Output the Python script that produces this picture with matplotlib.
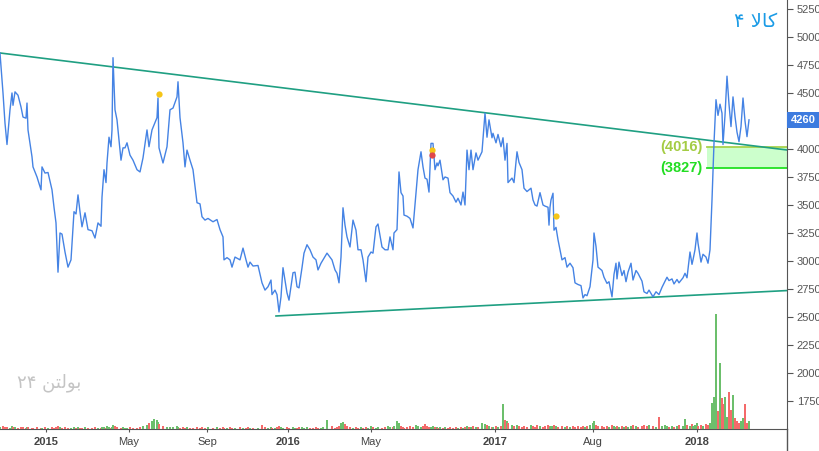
import matplotlib as mpl
import matplotlib.pyplot as plt
from matplotlib.lines import Line2D

mpl.rcParams.update({
    "font.family": ["Liberation Sans", "DejaVu Sans"],
    "font.size": 8,
    "figure.dpi": 100,
})

# trading-day index, close price and volume (volume in arbitrary units)
day = [
    0, 3, 5, 7, 10, 12, 13, 15, 18, 21,
    23, 26, 27, 28, 32, 33, 37, 41, 42, 45,
    48, 52, 54, 56, 58, 60, 62, 65, 68, 71,
    74, 76, 78, 80, 82, 85, 88, 92, 95, 98,
    101, 102, 104, 106, 107, 109, 111, 112, 113, 115,
    117, 121, 123, 125, 127, 130, 133, 137, 140, 143,
    147, 149, 152, 154, 157, 158, 159, 163, 167, 170,
    173, 177, 178, 180, 183, 185, 187, 190, 193, 197,
    200, 202, 205, 208, 213, 217, 220, 223, 224, 227,
    230, 232, 235, 240, 243, 246, 248, 250, 253, 258,
    262, 265, 268, 271, 272, 275, 277, 279, 281, 283,
    287, 289, 293, 295, 297, 299, 302, 304, 307, 310,
    313, 316, 318, 321, 323, 327, 332, 335, 337, 339,
    341, 343, 345, 347, 350, 353, 356, 358, 361, 363,
    366, 368, 371, 373, 376, 378, 382, 385, 388, 390,
    393, 394, 397, 399, 401, 403, 404, 407, 410, 413,
    416, 418, 421, 423, 425, 427, 429, 431, 433, 435,
    437, 438, 440, 443, 445, 448, 450, 453, 456, 458,
    461, 463, 465, 467, 469, 471, 473, 476, 478, 482,
    485, 487, 489, 492, 493, 496, 498, 501, 503, 505,
    507, 508, 512, 514, 517, 519, 522, 524, 527, 531,
    533, 535, 537, 540, 543, 545, 548, 549, 550, 551,
    553, 554, 556, 558, 562, 565, 567, 570, 573, 575,
    578, 581, 583, 585, 587, 590, 593, 594, 596, 598,
    602, 604, 607, 609, 612, 614, 616, 617, 619, 622,
    624, 626, 628, 631, 633, 636, 638, 642, 644, 647,
    649, 653, 656, 659, 662, 665, 667, 669, 672, 674,
    677, 679, 683, 685, 687, 690, 692, 693, 695, 697,
    698, 701, 703, 706, 708, 710, 712, 714, 716, 718,
    720, 722, 723, 725, 727, 729, 731, 733, 735, 737,
    739, 741, 743, 745, 747, 749,
]

close = [
    4855, 4500, 4230, 4040, 4350, 4500, 4390, 4510, 4480, 4375,
    4285, 4275, 4410, 4170, 3930, 3840, 3750, 3635, 3840, 3785,
    3790, 3635, 3480, 3340, 2900, 3250, 3240, 3080, 2945, 3010,
    3440, 3420, 3590, 3440, 3305, 3430, 3280, 3270, 3205, 3340,
    3310, 3570, 3815, 3700, 3875, 4105, 4020, 4170, 4815, 4350,
    4260, 3900, 4010, 4010, 4055, 3945, 3900, 3815, 3795, 3920,
    4170, 4020, 4170, 4215, 4280, 4455, 4010, 3875, 4020, 4350,
    4365, 4465, 4600, 4280, 4055, 3840, 3990, 3900, 3815, 3520,
    3510, 3395, 3365, 3380, 3350, 3370, 3280, 3215, 3010, 3030,
    3010, 2945, 3035, 3010, 3115, 3010, 2945, 2990, 2955, 2960,
    2805, 2740, 2770, 2830, 2700, 2740, 2700, 2545, 2680, 2940,
    2715, 2650, 2895, 2900, 2770, 2760, 2940, 3070, 3145, 3100,
    3035, 3010, 2920, 2980, 3010, 3070, 3010, 2920, 2890, 2805,
    3035, 3475, 3320, 3215, 3125, 3365, 3275, 3100, 3100, 3010,
    2815, 3035, 3080, 3070, 3305, 3330, 3125, 3100, 3100, 3215,
    3100, 3250, 3280, 3795, 3610, 3580, 3410, 3400, 3380, 3295,
    3605, 3815, 3975, 3840, 3740, 3730, 3615, 4050, 4050, 3815,
    3875, 3850, 3900, 3725, 3750, 3740, 3610, 3580, 3525, 3560,
    3500, 3615, 3500, 3990, 3815, 3990, 3815, 3965, 3900, 3975,
    4320, 4105, 4260, 4100, 4140, 4055, 4130, 4020, 4100, 3900,
    4050, 3700, 3740, 3700, 3975, 3880, 3815, 3650, 3620, 3650,
    3545, 3500, 3490, 3610, 3500, 3490, 3480, 3320, 3480, 3545,
    3605, 3275, 3300, 3190, 3010, 3030, 2945, 2980, 2940, 2805,
    2790, 2780, 2670, 2700, 2690, 2770, 3010, 3250, 3130, 2945,
    2915, 2855, 2800, 2815, 2680, 2880, 2980, 2840, 2990, 2870,
    2915, 2815, 2900, 2980, 2830, 2915, 2890, 2820, 2725, 2710,
    2740, 2680, 2725, 2700, 2765, 2820, 2855, 2825, 2840, 2795,
    2835, 2805, 2850, 2890, 2850, 3080, 2970, 3010, 3100, 3250,
    3160, 2990, 3060, 3035, 2980, 3100, 3545, 4054, 4440, 4300,
    4400, 4320, 4040, 4300, 4650, 4400, 4200, 4465, 4290, 4150,
    4065, 4200, 4455, 4250, 4110, 4260,
]

volume = [
    2, 3, 2, 2, 1, 3, 2, 2, 1, 2,
    2, 1, 2, 2, 1, 1, 2, 1, 1, 2,
    1, 2, 1, 2, 3, 2, 1, 2, 1, 1,
    2, 1, 2, 1, 1, 2, 1, 1, 2, 1,
    1, 2, 2, 1, 3, 2, 1, 2, 4, 3,
    2, 1, 2, 1, 1, 2, 1, 1, 2, 3,
    4, 6, 8, 10, 9, 7, 5, 3, 2, 2,
    2, 3, 2, 1, 2, 1, 2, 1, 1, 2,
    1, 2, 1, 2, 1, 2, 1, 2, 1, 1,
    2, 1, 1, 2, 1, 1, 2, 1, 1, 1,
    4, 2, 1, 2, 1, 1, 2, 3, 2, 1,
    2, 1, 2, 1, 1, 2, 2, 1, 2, 1,
    1, 2, 1, 1, 2, 9, 3, 1, 2, 3,
    6, 7, 5, 3, 2, 1, 2, 1, 2, 1,
    2, 1, 3, 2, 1, 2, 1, 2, 3, 2,
    2, 3, 8, 6, 3, 2, 1, 2, 3, 2,
    4, 3, 2, 3, 5, 3, 2, 2, 3, 2,
    2, 1, 2, 1, 2, 1, 2, 1, 2, 1,
    2, 1, 2, 3, 2, 2, 3, 2, 2, 6,
    5, 4, 3, 2, 2, 3, 2, 3, 25, 9,
    8, 6, 4, 3, 4, 3, 2, 3, 2, 4,
    3, 2, 4, 3, 2, 3, 4, 3, 2, 3,
    3, 4, 3, 2, 3, 2, 3, 2, 3, 2,
    3, 2, 3, 2, 3, 4, 6, 8, 4, 3,
    3, 2, 3, 2, 4, 3, 2, 3, 2, 3,
    2, 3, 2, 3, 4, 3, 2, 3, 4, 3,
    4, 3, 2, 12, 3, 4, 3, 2, 3, 2,
    3, 4, 3, 10, 4, 3, 5, 3, 4, 6,
    3, 4, 3, 5, 4, 6, 26, 32, 115, 18,
    66, 31, 25, 32, 12, 37, 19, 34, 11, 8,
    6, 8, 11, 25, 6, 8,
]

assert len(day) == len(close) == len(volume)

upper_trend_day = [0, 787]
upper_trend_price = [4857, 3991]
lower_trend_day = [276, 787]
lower_trend_price = [2509, 2736]

zone_day = [707, 787]
zone_top = 4016
zone_bottom = 3827

yellow_signal_day = [159, 432, 556]
yellow_signal_price = [4491, 3991, 3402]
red_signal_day = [432]
red_signal_price = [3947]

last_price = 4260

tick_day = [46, 129, 207, 288, 371, 495, 593, 697]
tick_label = ["2015", "May", "Sep", "2016", "May", "2017", "Aug", "2018"]
# 4250 sits under the last-price tag, so it is left out
price_ticks = [p for p in range(1750, 5251, 250) if p != 4250]

fig = plt.figure(figsize=(8.2, 4.51))
ax = fig.add_axes([0, 22 / 451, 787 / 820, 429 / 451])

# volume bars on a hidden twin scale
axv = ax.twinx()
vol_colors = ["#6cbf6c" if i == 0 or close[i] >= close[i - 1] else "#f46a6a"
              for i in range(len(close))]
axv.bar(day, volume, width=2.2, color=vol_colors, linewidth=0)
axv.set_ylim(0, 429)
axv.axis("off")

ax.fill_between(zone_day, zone_bottom, zone_top, color="#ccffcc", lw=0, zorder=1)
ax.plot(zone_day, [zone_top, zone_top], color="#a8d24c", lw=1.3, zorder=2)
ax.plot(zone_day, [zone_bottom, zone_bottom], color="#22e022", lw=1.3, zorder=2)
ax.text(zone_day[0] - 4, zone_top, f"({zone_top})", ha="right", va="center",
        color="#a4cc44", fontsize=10.5, fontweight="bold")
ax.text(zone_day[0] - 4, zone_bottom, f"({zone_bottom})", ha="right", va="center",
        color="#22dd22", fontsize=10.5, fontweight="bold")

ax.plot(upper_trend_day, upper_trend_price, color="#1f9f82", lw=1.2, zorder=3)
ax.plot(lower_trend_day, lower_trend_price, color="#1f9f82", lw=1.2, zorder=3)
ax.plot(day, close, color="#4583e4", lw=1.0, zorder=4)

ax.plot(yellow_signal_day, yellow_signal_price, "o", color="#f5c518", ms=4.5, mec="none", zorder=5)
ax.plot(red_signal_day, red_signal_price, "o", color="#e04848", ms=4.5, mec="none", zorder=5)

ax.set_xlim(0, 787)
ax.set_ylim(1500, 5330)

ax.spines[["top", "left"]].set_visible(False)
ax.spines["right"].set_color("#555555")
ax.spines["bottom"].set_color("#555555")
ax.yaxis.tick_right()
ax.set_yticks(price_ticks)
ax.tick_params(axis="y", length=4, color="#555555", labelcolor="#555555",
               labelsize=8, pad=3)
ax.set_xticks(tick_day)
ax.set_xticklabels(tick_label)
ax.tick_params(axis="x", length=2, color="#555555", labelcolor="#444444",
               labelsize=8, pad=4)
for lbl in ax.get_xticklabels():
    if lbl.get_text().isdigit():
        lbl.set_fontweight("bold")

fig.add_artist(Line2D([787 / 820, 787 / 820], [0, 22 / 451],
                      transform=fig.transFigure, color="#555555", lw=1))

ax.annotate(f"{last_price}", xy=(1, last_price), xycoords=("axes fraction", "data"),
            xytext=(2.6, 0), textcoords="offset points", ha="left", va="center",
            color="white", fontsize=8, fontweight="bold", annotation_clip=False,
            bbox=dict(boxstyle="square,pad=0.3", fc="#3d7bdf", ec="none"), zorder=10)

# symbol name and watermark (Persian, written in presentation forms, visual order)
ax.text(0.987, 0.949, "۴ ﻻﺎﮐ", transform=ax.transAxes, ha="right", va="center",
        color="#1a9be6", fontsize=14, family="DejaVu Sans")
ax.text(0.0216, 0.107, "۲۴ ﻦﺘﻟﻮﺑ", transform=ax.transAxes, ha="left", va="center",
        color="#c4c4c4", fontsize=13, family="DejaVu Sans")

fig.savefig("out.png", dpi=100)
